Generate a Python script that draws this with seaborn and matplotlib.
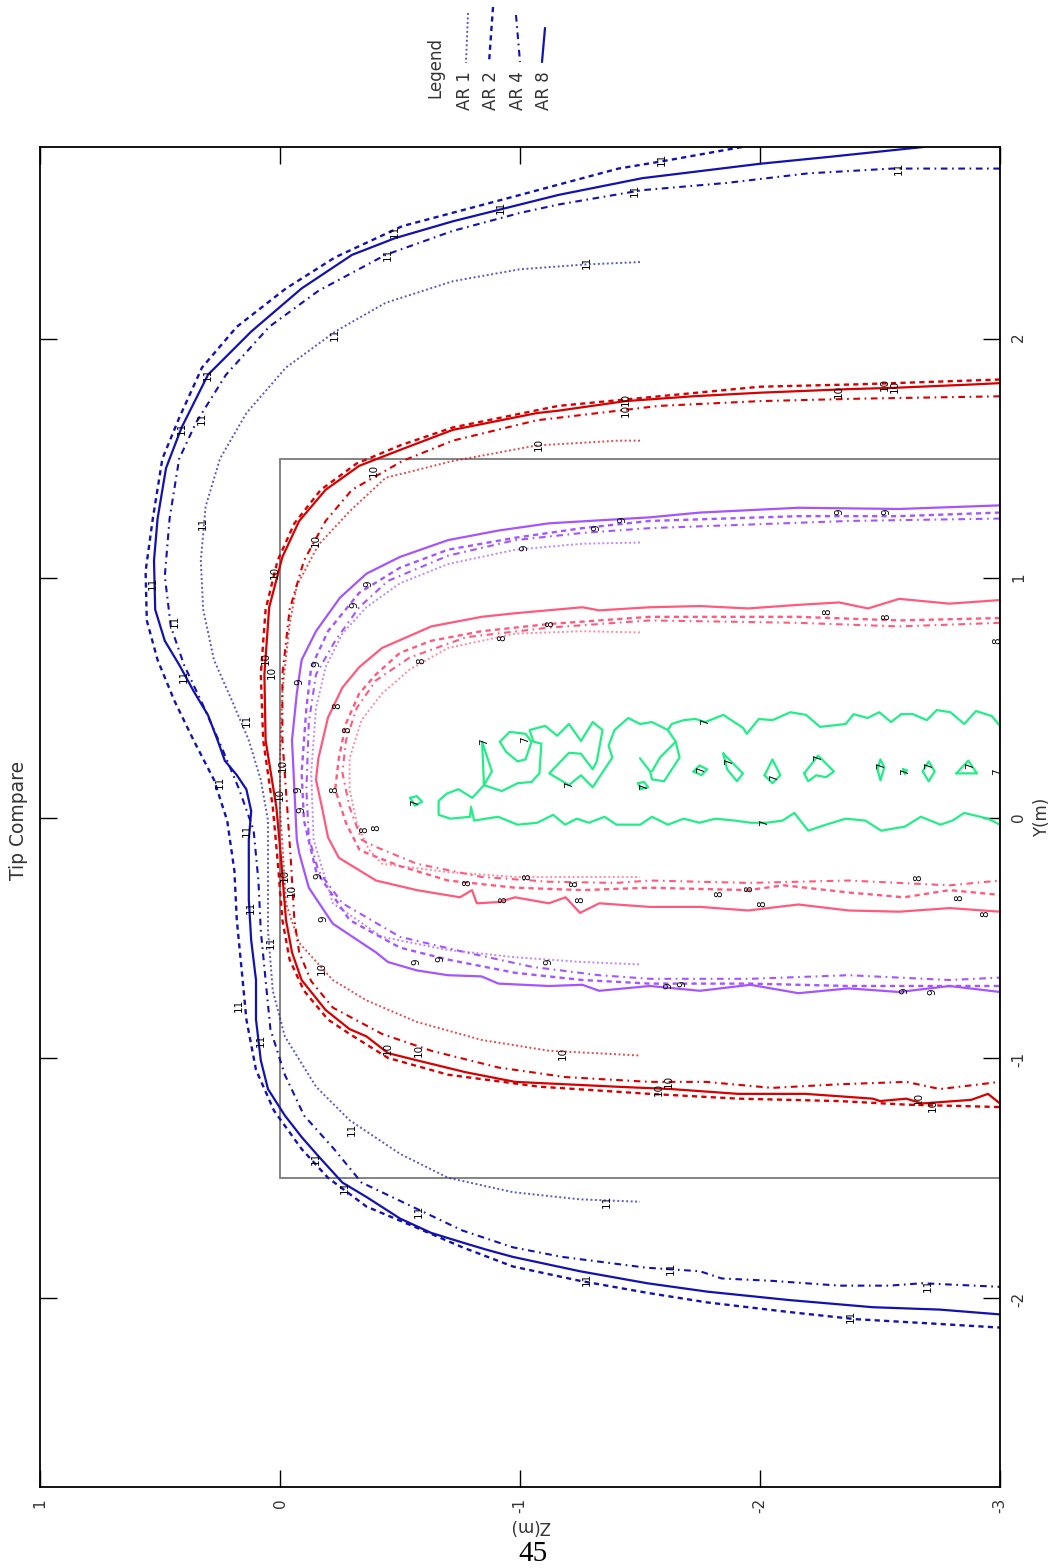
import pandas as pd
import matplotlib
matplotlib.use("Agg")
import matplotlib.pyplot as plt
from matplotlib.lines import Line2D
from matplotlib.patches import Rectangle
import seaborn as sns

# ------------------------------------------------------------------
# Contour lines of the tip field, as (Z, Y) vertices in metres.
# Level 11 (blue)
l11_ar8 = [(-2.68, 2.80), (-2.30, 2.76), (-2.00, 2.73), (-1.51, 2.67), (-1.16, 2.60), (-0.72, 2.49),
           (-0.48, 2.42), (-0.30, 2.35), (-0.09, 2.21), (0.12, 2.03), (0.30, 1.85), (0.41, 1.63),
           (0.475, 1.46), (0.51, 1.25), (0.525, 1.075), (0.52, 0.87), (0.48, 0.74), (0.42, 0.64),
           (0.36, 0.53), (0.30, 0.43), (0.26, 0.325), (0.23, 0.24), (0.18, 0.18), (0.14, 0.12),
           (0.12, 0.03), (0.13, -0.09), (0.13, -0.22), (0.13, -0.34), (0.12, -0.51), (0.10, -0.675),
           (0.10, -0.84), (0.08, -1.01), (0.05, -1.13), (-0.02, -1.24), (-0.09, -1.33), (-0.16, -1.41),
           (-0.26, -1.52), (-0.36, -1.58), (-0.50, -1.67), (-0.63, -1.73), (-0.76, -1.77), (-0.86, -1.80),
           (-0.97, -1.83), (-1.25, -1.89), (-1.53, -1.94), (-1.78, -1.975), (-2.12, -2.01), (-2.47, -2.04),
           (-2.75, -2.05), (-3.0, -2.07)]
l11_ar2 = [(-1.925, 2.80), (-1.59, 2.74), (-1.41, 2.71), (-1.00, 2.60), (-0.51, 2.47), (-0.23, 2.34),
           (-0.025, 2.21), (0.18, 2.05), (0.325, 1.88), (0.42, 1.67), (0.49, 1.50), (0.53, 1.25),
           (0.56, 1.03), (0.555, 0.825), (0.51, 0.66), (0.44, 0.49), (0.36, 0.325), (0.275, 0.16),
           (0.22, -0.01), (0.19, -0.22), (0.18, -0.425), (0.16, -0.63), (0.14, -0.84), (0.10, -1.05),
           (0.025, -1.22), (-0.09, -1.38), (-0.20, -1.50), (-0.36, -1.62), (-0.55, -1.70), (-0.76, -1.79),
           (-0.97, -1.87), (-1.25, -1.93), (-1.53, -1.98), (-1.78, -2.02), (-2.12, -2.06), (-2.40, -2.09),
           (-2.75, -2.11), (-3.0, -2.125)]
l11_ar4 = [(-3.0, 2.71), (-2.55, 2.71), (-2.20, 2.69), (-1.86, 2.65), (-1.51, 2.62), (-1.16, 2.56),
           (-1.00, 2.525), (-0.72, 2.45), (-0.44, 2.35), (-0.16, 2.20), (0.045, 2.05), (0.225, 1.85),
           (0.35, 1.65), (0.42, 1.50), (0.46, 1.25), (0.48, 1.01), (0.455, 0.80), (0.40, 0.64),
           (0.32, 0.47), (0.245, 0.30), (0.17, 0.12), (0.11, -0.05), (0.09, -0.26), (0.08, -0.47),
           (0.06, -0.675), (0.04, -0.88), (-0.02, -1.07), (-0.10, -1.24), (-0.225, -1.38), (-0.34, -1.52),
           (-0.55, -1.62), (-0.76, -1.72), (-0.97, -1.79), (-1.175, -1.83), (-1.525, -1.875), (-1.75, -1.89),
           (-1.84, -1.92), (-2.05, -1.93), (-2.33, -1.95), (-2.54, -1.95), (-2.675, -1.94), (-3.0, -1.955)]
l11_ar1 = [(-1.50, 2.32), (-1.275, 2.31), (-1.00, 2.29), (-0.72, 2.24), (-0.44, 2.15), (-0.23, 2.03),
           (-0.025, 1.88), (0.14, 1.69), (0.25, 1.50), (0.31, 1.30), (0.33, 1.075), (0.32, 0.87),
           (0.275, 0.66), (0.20, 0.49), (0.13, 0.325), (0.08, 0.16), (0.05, -0.01), (0.05, -0.22),
           (0.05, -0.47), (0.03, -0.72), (-0.02, -0.91), (-0.15, -1.12), (-0.29, -1.26), (-0.50, -1.40),
           (-0.70, -1.50), (-0.97, -1.56), (-1.25, -1.59), (-1.50, -1.60)]

# Level 10 (red)
l10_ar8 = [(-3.0, 1.815), (-2.90, 1.81), (-2.55, 1.795), (-2.37, 1.79), (-2.00, 1.775), (-1.72, 1.76),
           (-1.44, 1.74), (-1.16, 1.70), (-1.07, 1.69), (-0.72, 1.62), (-0.51, 1.54), (-0.33, 1.47),
           (-0.19, 1.37), (-0.08, 1.24), (-0.01, 1.09), (0.045, 0.88), (0.065, 0.60), (0.06, 0.325),
           (0.015, 0.045), (-0.005, -0.175), (-0.025, -0.425), (-0.05, -0.56), (-0.09, -0.675),
           (-0.19, -0.80), (-0.29, -0.88), (-0.36, -0.91), (-0.45, -0.98), (-0.57, -1.01), (-0.775, -1.06),
           (-0.98, -1.10), (-1.19, -1.11), (-1.40, -1.12), (-1.63, -1.13), (-1.91, -1.15), (-2.19, -1.15),
           (-2.47, -1.17), (-2.50, -1.18), (-2.61, -1.17), (-2.675, -1.19), (-2.88, -1.175), (-2.95, -1.15),
           (-3.0, -1.19)]
l10_ar2 = [(-3.0, 1.83), (-2.41, 1.81), (-2.00, 1.80), (-1.58, 1.76), (-1.16, 1.72), (-0.72, 1.63),
           (-0.50, 1.555), (-0.32, 1.48), (-0.17, 1.37), (-0.06, 1.23), (0.01, 1.075), (0.06, 0.87),
           (0.08, 0.60), (0.07, 0.325), (0.03, 0.045), (0.01, -0.175), (-0.01, -0.425), (-0.04, -0.59),
           (-0.10, -0.72), (-0.20, -0.84), (-0.29, -0.90), (-0.45, -1.00), (-0.70, -1.07), (-1.08, -1.12),
           (-1.54, -1.15), (-1.91, -1.17), (-2.33, -1.18), (-2.61, -1.195), (-3.0, -1.205)]
l10_ar4 = [(-3.0, 1.76), (-2.41, 1.75), (-2.00, 1.74), (-1.58, 1.72), (-1.41, 1.70), (-1.07, 1.66),
           (-0.72, 1.575), (-0.51, 1.49), (-0.30, 1.37), (-0.19, 1.24), (-0.10, 1.075), (-0.04, 0.87),
           (-0.01, 0.60), (-0.01, 0.325), (-0.03, 0.045), (-0.045, -0.175), (-0.06, -0.425), (-0.08, -0.56),
           (-0.13, -0.68), (-0.22, -0.79), (-0.425, -0.90), (-0.63, -0.97), (-0.91, -1.04), (-1.19, -1.08),
           (-1.54, -1.10), (-1.775, -1.10), (-2.05, -1.125), (-2.33, -1.11), (-2.61, -1.10), (-2.75, -1.13),
           (-3.0, -1.10)]
l10_ar1 = [(-1.50, 1.575), (-1.41, 1.575), (-1.07, 1.555), (-0.72, 1.49), (-0.44, 1.42), (-0.29, 1.28),
           (-0.16, 1.14), (-0.07, 0.97), (-0.04, 0.81), (-0.01, 0.53), (0.0, 0.24), (0.0, 0.045),
           (-0.025, -0.355), (-0.08, -0.52), (-0.22, -0.675), (-0.36, -0.76), (-0.57, -0.85),
           (-0.84, -0.925), (-1.12, -0.97), (-1.50, -0.99)]

# Level 9 (violet)
l9_ar8 = [(-3.0, 1.305), (-2.58, 1.29), (-2.16, 1.295), (-1.75, 1.275), (-1.54, 1.255), (-1.12, 1.23),
          (-0.91, 1.20), (-0.70, 1.16), (-0.50, 1.09), (-0.36, 1.02), (-0.25, 0.92), (-0.15, 0.78),
          (-0.09, 0.66), (-0.07, 0.52), (-0.05, 0.325), (-0.06, 0.12), (-0.07, -0.09), (-0.08, -0.145),
          (-0.12, -0.29), (-0.22, -0.44), (-0.40, -0.56), (-0.45, -0.60), (-0.57, -0.635), (-0.70, -0.655),
          (-0.84, -0.66), (-0.91, -0.69), (-1.12, -0.70), (-1.26, -0.695), (-1.33, -0.72), (-1.54, -0.70),
          (-1.75, -0.72), (-1.96, -0.695), (-2.16, -0.73), (-2.37, -0.71), (-2.58, -0.725), (-2.79, -0.70),
          (-3.0, -0.725)]
l9_ar2 = [(-3.0, 1.275), (-2.58, 1.26), (-2.16, 1.26), (-1.54, 1.24), (-1.26, 1.21), (-0.98, 1.17),
          (-0.70, 1.12), (-0.50, 1.045), (-0.33, 0.94), (-0.20, 0.78), (-0.13, 0.63), (-0.11, 0.46),
          (-0.09, 0.19), (-0.10, -0.01), (-0.15, -0.22), (-0.29, -0.425), (-0.50, -0.54), (-0.70, -0.59),
          (-0.98, -0.645), (-1.26, -0.675), (-1.54, -0.69), (-1.96, -0.69), (-2.37, -0.70), (-3.0, -0.70)]
l9_ar4 = [(-3.0, 1.25), (-2.37, 1.24), (-1.54, 1.21), (-1.26, 1.19), (-0.98, 1.16), (-0.70, 1.095),
          (-0.45, 0.99), (-0.33, 0.88), (-0.23, 0.74), (-0.15, 0.60), (-0.12, 0.40), (-0.11, 0.12),
          (-0.12, -0.08), (-0.16, -0.22), (-0.26, -0.355), (-0.50, -0.495), (-0.775, -0.56), (-1.05, -0.62),
          (-1.33, -0.655), (-1.54, -0.67), (-1.96, -0.67), (-2.37, -0.655), (-2.79, -0.675), (-3.0, -0.665)]
l9_ar1 = [(-1.50, 1.15), (-1.26, 1.145), (-0.98, 1.12), (-0.70, 1.06), (-0.50, 0.98), (-0.36, 0.88),
          (-0.26, 0.77), (-0.19, 0.63), (-0.15, 0.46), (-0.13, 0.19), (-0.14, -0.09), (-0.22, -0.355),
          (-0.425, -0.495), (-0.70, -0.55), (-0.98, -0.58), (-1.26, -0.60), (-1.50, -0.61)]

# Level 8 (pink)
l8_ar8 = [(-3.0, 0.91), (-2.79, 0.895), (-2.58, 0.915), (-2.45, 0.875), (-2.33, 0.90), (-2.16, 0.89),
          (-1.95, 0.875), (-1.75, 0.885), (-1.54, 0.88), (-1.33, 0.867), (-1.26, 0.88), (-0.98, 0.855),
          (-0.84, 0.84), (-0.63, 0.80), (-0.425, 0.71), (-0.33, 0.63), (-0.26, 0.545), (-0.20, 0.42),
          (-0.16, 0.25), (-0.15, 0.16), (-0.175, 0.045), (-0.20, -0.08), (-0.245, -0.165), (-0.40, -0.26),
          (-0.57, -0.30), (-0.75, -0.33), (-0.80, -0.30), (-0.82, -0.355), (-0.91, -0.35), (-0.98, -0.33),
          (-1.12, -0.355), (-1.19, -0.33), (-1.25, -0.395), (-1.33, -0.355), (-1.54, -0.37), (-1.75, -0.37),
          (-1.95, -0.385), (-2.16, -0.36), (-2.37, -0.385), (-2.58, -0.39), (-2.79, -0.375), (-3.0, -0.39)]
l8_ar2 = [(-3.0, 0.835), (-2.58, 0.825), (-2.16, 0.84), (-1.54, 0.84), (-1.12, 0.81), (-0.84, 0.78),
          (-0.63, 0.74), (-0.50, 0.69), (-0.40, 0.60), (-0.33, 0.52), (-0.275, 0.395), (-0.245, 0.25),
          (-0.23, 0.12), (-0.275, -0.02), (-0.33, -0.13), (-0.36, -0.145), (-0.50, -0.20), (-0.70, -0.26),
          (-0.98, -0.29), (-1.26, -0.30), (-1.54, -0.29), (-1.95, -0.30), (-2.10, -0.28), (-2.37, -0.31),
          (-2.60, -0.33), (-2.79, -0.30), (-3.0, -0.32)]
l8_ar4 = [(-3.0, 0.815), (-2.58, 0.80), (-2.16, 0.815), (-1.54, 0.825), (-1.12, 0.795), (-0.775, 0.755),
          (-0.54, 0.67), (-0.40, 0.575), (-0.32, 0.46), (-0.275, 0.325), (-0.26, 0.19), (-0.29, 0.045),
          (-0.34, -0.09), (-0.40, -0.12), (-0.57, -0.19), (-0.84, -0.245), (-1.12, -0.265), (-1.40, -0.27),
          (-1.54, -0.26), (-1.95, -0.27), (-2.37, -0.26), (-2.79, -0.28), (-3.0, -0.26)]
l8_ar1 = [(-1.50, 0.775), (-1.26, 0.78), (-0.98, 0.77), (-0.70, 0.71), (-0.54, 0.62), (-0.425, 0.52),
          (-0.34, 0.41), (-0.29, 0.25), (-0.29, 0.12), (-0.32, -0.02), (-0.37, -0.13), (-0.425, -0.19),
          (-0.70, -0.225), (-0.98, -0.245), (-1.26, -0.245), (-1.50, -0.245)]

# Level 7 (green, AR 8 only): outer band and enclosed islands
l7_band = [(-3.0, 0.385), (-2.966, 0.426), (-2.90, 0.447), (-2.851, 0.393), (-2.794, 0.442), (-2.736, 0.451),
           (-2.695, 0.409), (-2.637, 0.434), (-2.588, 0.434), (-2.546, 0.401), (-2.497, 0.442), (-2.448, 0.418),
           (-2.39, 0.434), (-2.357, 0.393), (-2.25, 0.381), (-2.192, 0.431), (-2.126, 0.442), (-2.052, 0.409),
           (-1.995, 0.414), (-1.945, 0.352), (-1.929, 0.377), (-1.847, 0.431), (-1.772, 0.401), (-1.731, 0.414),
           (-1.682, 0.409), (-1.632, 0.393), (-1.616, 0.368), (-1.55, 0.401), (-1.50, 0.393), (-1.451, 0.418),
           (-1.394, 0.368), (-1.369, 0.302), (-1.385, 0.253), (-1.352, 0.204), (-1.303, 0.129), (-1.254, 0.179),
           (-1.204, 0.138), (-1.122, 0.187), (-1.204, 0.273), (-1.254, 0.269), (-1.303, 0.204), (-1.32, 0.237),
           (-1.344, 0.368), (-1.303, 0.401), (-1.254, 0.322), (-1.204, 0.393), (-1.155, 0.344), (-1.105, 0.385),
           (-1.04, 0.368), (-1.056, 0.319), (-1.089, 0.311), (-1.081, 0.187), (-1.048, 0.151), (-0.99, 0.146),
           (-0.924, 0.113), (-0.85, 0.138), (-0.883, 0.195), (-0.842, 0.319), (-0.85, 0.138), (-0.801, 0.085),
           (-0.743, 0.121), (-0.694, 0.102), (-0.661, 0.072), (-0.661, 0.014), (-0.71, -0.002), (-0.792, 0.006),
           (-0.796, 0.047), (-0.809, -0.01), (-0.908, 0.006), (-0.99, -0.027), (-1.072, -0.019), (-1.138, 0.014),
           (-1.188, -0.027), (-1.237, -0.002), (-1.287, -0.019), (-1.352, 0.006), (-1.402, -0.027), (-1.501, -0.027),
           (-1.55, 0.006), (-1.616, -0.027), (-1.682, -0.002), (-1.748, -0.019), (-1.814, -0.002), (-1.896, -0.01),
           (-1.962, -0.019), (-2.028, -0.019), (-2.094, -0.01), (-2.143, 0.022), (-2.201, -0.052), (-2.275, -0.027),
           (-2.357, -0.002), (-2.439, -0.01), (-2.505, -0.052), (-2.604, -0.035), (-2.67, 0.006), (-2.752, -0.027),
           (-2.802, -0.01), (-2.851, 0.022), (-2.95, -0.002), (-3.0, -0.027)]
l7_hook = [(-1.616, 0.368), (-1.649, 0.319), (-1.665, 0.253), (-1.60, 0.154), (-1.55, 0.162), (-1.542, 0.195),
           (-1.50, 0.25)]
l7_stroke = [(-1.55, 0.195), (-1.583, 0.253), (-1.649, 0.319)]
l7_loop = [(-0.916, 0.319), (-0.957, 0.36), (-1.023, 0.352), (-1.048, 0.319), (-1.023, 0.245), (-0.99, 0.237),
           (-0.941, 0.278), (-0.916, 0.319)]
l7_isl1 = [(-0.542, 0.085), (-0.57, 0.092), (-0.592, 0.069), (-0.562, 0.052), (-0.542, 0.085)]
l7_isl2 = [(-1.492, 0.146), (-1.517, 0.151), (-1.534, 0.129), (-1.504, 0.121), (-1.492, 0.146)]
l7_isl3 = [(-1.723, 0.195), (-1.748, 0.22), (-1.78, 0.204), (-1.756, 0.179), (-1.723, 0.195)]
l7_isl4 = [(-1.847, 0.27), (-1.863, 0.204), (-1.904, 0.154), (-1.929, 0.187), (-1.879, 0.237), (-1.847, 0.27)]
l7_isl5 = [(-2.019, 0.179), (-2.052, 0.245), (-2.085, 0.179), (-2.052, 0.146), (-2.019, 0.179)]
l7_isl6 = [(-2.184, 0.187), (-2.242, 0.261), (-2.308, 0.195), (-2.275, 0.171), (-2.234, 0.179), (-2.201, 0.154),
           (-2.184, 0.187)]
l7_isl7 = [(-2.489, 0.204), (-2.502, 0.245), (-2.518, 0.212), (-2.502, 0.158), (-2.489, 0.204)]
l7_isl8 = [(-2.596, 0.204), (-2.612, 0.20), (-2.604, 0.184), (-2.596, 0.204)]
l7_isl9 = [(-2.678, 0.195), (-2.703, 0.237), (-2.728, 0.195), (-2.703, 0.154), (-2.678, 0.195)]
l7_isl10 = [(-2.818, 0.187), (-2.868, 0.24), (-2.904, 0.187), (-2.818, 0.187)]

# Inline contour labels (Z, Y) for each level
labels_11 = [(-1.59, 2.75), (-1.48, 2.62), (-0.92, 2.55), (-0.48, 2.45), (-0.45, 2.35), (-1.28, 2.32),
             (-0.23, 2.02), (0.30, 1.85), (0.325, 1.67), (0.41, 1.625), (0.32, 1.23), (0.53, 0.98),
             (0.44, 0.82), (0.40, 0.59), (0.14, 0.41), (0.25, 0.15), (0.14, -0.05), (0.12, -0.37),
             (0.04, -0.52), (0.17, -0.78), (0.08, -0.925), (-0.30, -1.30), (-0.15, -1.42), (-0.27, -1.54),
             (-0.58, -1.64), (-1.36, -1.60), (-1.28, -1.925), (-1.63, -1.88), (-2.38, -2.08), (-2.70, -1.95),
             (-2.58, 2.71)]
labels_10 = [(-2.52, 1.81), (-2.56, 1.80), (-2.33, 1.78), (-1.44, 1.745), (-1.44, 1.70), (-1.08, 1.56),
             (-0.39, 1.45), (-0.15, 1.16), (0.02, 1.025), (0.06, 0.665), (0.035, 0.61), (-0.01, 0.22),
             (0.0, 0.10), (-0.02, -0.24), (-0.05, -0.30), (-0.175, -0.625), (-0.45, -0.96), (-0.58, -0.97),
             (-1.18, -0.98), (-1.58, -1.13), (-1.62, -1.10), (-2.66, -1.17), (-2.72, -1.20)]
labels_9 = [(-2.525, 1.28), (-2.33, 1.28), (-1.425, 1.245), (-1.32, 1.21), (-1.02, 1.13), (-0.37, 0.98),
            (-0.31, 0.89), (-0.15, 0.645), (-0.08, 0.57), (-0.075, 0.12), (-0.09, 0.035), (-0.16, -0.24),
            (-0.18, -0.42), (-0.57, -0.60), (-0.67, -0.585), (-1.12, -0.60), (-1.62, -0.70), (-1.675, -0.69),
            (-2.60, -0.72), (-2.72, -0.725)]
labels_8 = [(-2.28, 0.86), (-2.525, 0.84), (-2.99, 0.74), (-1.125, 0.81), (-0.925, 0.755), (-0.59, 0.655),
            (-0.24, 0.47), (-0.28, 0.37), (-0.225, 0.12), (-0.35, -0.05), (-0.40, -0.04), (-0.78, -0.27),
            (-0.93, -0.34), (-1.03, -0.245), (-1.225, -0.275), (-1.25, -0.34), (-1.83, -0.315),
            (-1.955, -0.295), (-2.01, -0.355), (-2.66, -0.25), (-2.83, -0.33), (-2.94, -0.40)]
labels_7 = [(-0.85, 0.319), (-1.023, 0.327), (-1.204, 0.138), (-1.517, 0.13), (-1.772, 0.401),
            (-1.756, 0.204), (-1.871, 0.237), (-2.06, 0.17), (-2.242, 0.253), (-2.505, 0.22),
            (-2.604, 0.195), (-2.703, 0.22), (-2.876, 0.22), (-2.99, 0.195), (-0.562, 0.064),
            (-2.019, -0.019)]

# Core box and axis ticks
box_z = [0.0, -3.0]
box_y = [-1.5, 1.5]
z_ticks = [1, 0, -1, -2, -3]
z_tick_labels = ["1", "0", "-1", "-2", "-3"]
y_ticks = [-2, -1, 0, 1, 2]
y_tick_labels = ["-2", "-1", "0", "1", "2"]
ar_names = ["AR 1", "AR 2", "AR 4", "AR 8"]

# ------------------------------------------------------------------
curves = [
    ("11", "AR 1", l11_ar1), ("11", "AR 2", l11_ar2), ("11", "AR 4", l11_ar4), ("11", "AR 8", l11_ar8),
    ("10", "AR 1", l10_ar1), ("10", "AR 2", l10_ar2), ("10", "AR 4", l10_ar4), ("10", "AR 8", l10_ar8),
    ("9", "AR 1", l9_ar1), ("9", "AR 2", l9_ar2), ("9", "AR 4", l9_ar4), ("9", "AR 8", l9_ar8),
    ("8", "AR 1", l8_ar1), ("8", "AR 2", l8_ar2), ("8", "AR 4", l8_ar4), ("8", "AR 8", l8_ar8),
    ("7", "AR 8", l7_band), ("7", "AR 8", l7_hook), ("7", "AR 8", l7_stroke), ("7", "AR 8", l7_loop),
    ("7", "AR 8", l7_isl1), ("7", "AR 8", l7_isl2), ("7", "AR 8", l7_isl3), ("7", "AR 8", l7_isl4),
    ("7", "AR 8", l7_isl5), ("7", "AR 8", l7_isl6), ("7", "AR 8", l7_isl7), ("7", "AR 8", l7_isl8),
    ("7", "AR 8", l7_isl9), ("7", "AR 8", l7_isl10),
]
records = []
for cid, (lev, ar, pts) in enumerate(curves):
    for k, (z, y) in enumerate(pts):
        records.append({"curve": cid, "level": lev, "AR": ar, "order": k, "Z": z, "Y": y})
df = pd.DataFrame(records)

level_colors = {"11": "#1212b0", "10": "#d60000", "9": "#a455ff", "8": "#ff5a7c", "7": "#22ee88"}
ar_styles = {
    "AR 1": dict(ls=(0, (1.0, 1.3)), lw=1.4, alpha=0.7),
    "AR 2": dict(ls=(0, (2.2, 1.8)), lw=1.7, alpha=1.0),
    "AR 4": dict(ls=(0, (3.2, 2.2, 0.8, 2.2)), lw=1.5, alpha=1.0),
    "AR 8": dict(ls="-", lw=1.6, alpha=1.0),
}

sns.set_style("white")
plt.rcParams["font.family"] = ["DejaVu Sans"]

W, H = 1057, 1568
fig = plt.figure(figsize=(W / 100, H / 100), dpi=100)
ax = fig.add_axes([40 / W, 1 - 1487 / H, 960 / W, 1340 / H])

for ar in ["AR 1", "AR 4", "AR 2", "AR 8"]:
    sub = df[df["AR"] == ar]
    st = ar_styles[ar]
    sns.lineplot(data=sub, x="Z", y="Y", hue="level", palette=level_colors,
                 units="curve", estimator=None, sort=False, legend=False, ax=ax,
                 linestyle=st["ls"], linewidth=st["lw"], alpha=st["alpha"])

ax.add_patch(Rectangle((box_z[1], box_y[0]), box_z[0] - box_z[1], box_y[1] - box_y[0],
                       fill=False, edgecolor="#7a7a7a", linewidth=1.3, zorder=1))

for group, txt in [(labels_11, "11"), (labels_10, "10"), (labels_9, "9"), (labels_8, "8"), (labels_7, "7")]:
    for z, y in group:
        ax.text(z, y, txt, rotation=90, fontsize=7.5, ha="center", va="center",
                color="black", clip_on=True, zorder=5)

ax.set_xlim(1, -3)
ax.set_ylim(-2.79, 2.80)
ax.set_xticks(z_ticks)
ax.set_xticklabels(z_tick_labels, rotation=90)
ax.set_yticks(y_ticks)
ax.set_yticklabels(y_tick_labels, rotation=90)
ax.tick_params(axis="both", direction="in", length=12, width=1.0, colors="black",
               top=True, right=True, bottom=True, left=True,
               labelleft=False, labelright=True, labelbottom=True, labeltop=False,
               labelsize=11, pad=8)
for lab in ax.get_xticklabels() + ax.get_yticklabels():
    lab.set_color("#333333")
for sp in ax.spines.values():
    sp.set_color("black")
    sp.set_linewidth(1.3)

ax.yaxis.set_label_position("right")
ax.set_ylabel("Y(m)", fontsize=12, labelpad=5, color="#333333")
ax.set_xlabel("Z(m)", fontsize=12, rotation=180, color="#333333")
ax.xaxis.set_label_coords((530 - 40) / 960, -(1517 - 1487) / 1340)

fig.text(18 / W, 1 - 820 / H, "Tip Compare", rotation=90, ha="center", va="center",
         fontsize=13.5, color="#333333")
fig.text(533 / W, 1 - 1567 / H, "45", ha="center", va="bottom", fontsize=21,
         family="Liberation Serif", color="black")

# Rotated legend block at the top
fig.text(435 / W, 1 - 98 / H, "Legend", rotation=90, ha="center", va="bottom",
         fontsize=12, color="#333333")
legend_x = [465, 491, 518, 544]
sample_top = [(468, 13), (493, 7), (516, 15), (545, 28)]
sample_bot = [(466, 63), (489, 63), (520, 62), (542, 62)]
for name, tx, (x0, y0), (x1, y1) in zip(ar_names, legend_x, sample_top, sample_bot):
    fig.text(tx / W, 1 - 110 / H, name, rotation=90, ha="center", va="bottom",
             fontsize=12, color="#333333")
    st = ar_styles[name]
    fig.add_artist(Line2D([x0 / W, x1 / W], [1 - y0 / H, 1 - y1 / H], transform=fig.transFigure,
                          color=level_colors["11"], linestyle=st["ls"], linewidth=st["lw"],
                          alpha=st["alpha"]))

fig.savefig("out.png", dpi=100)
